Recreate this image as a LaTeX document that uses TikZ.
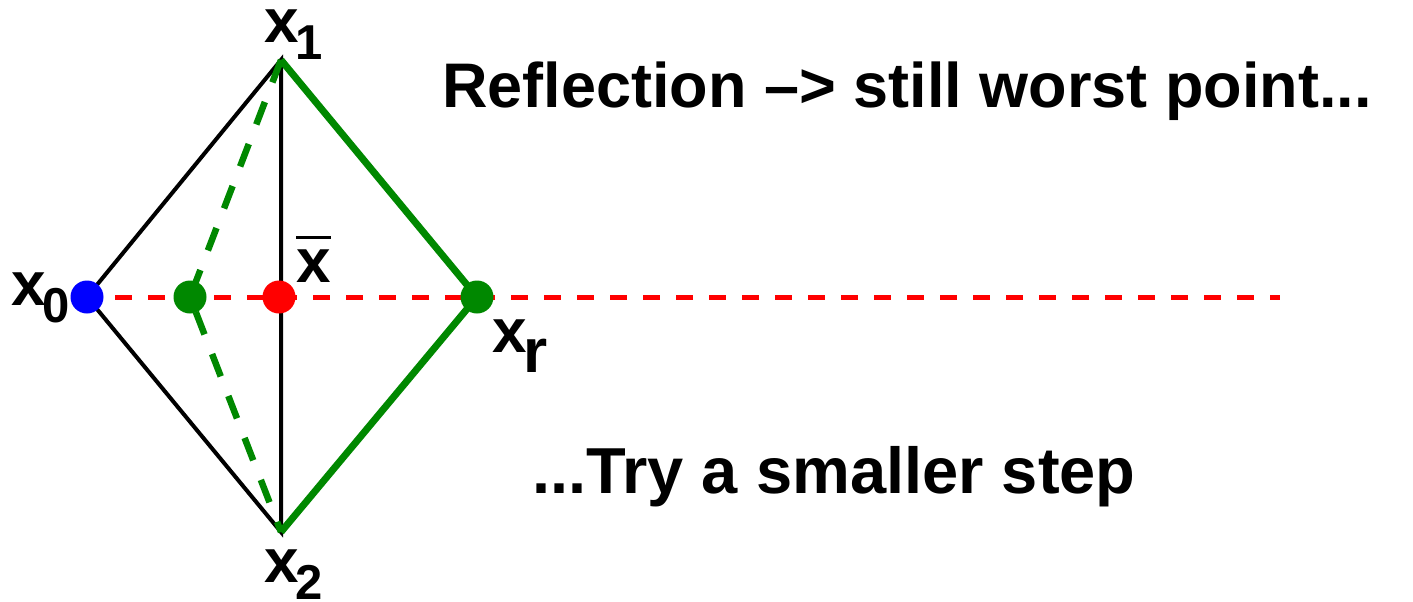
\documentclass[tikz,border=0pt]{standalone}
\usepackage{fontspec}
\setmainfont{Liberation Sans}
\definecolor{dotblue}{HTML}{0000FF}
\definecolor{dotred}{HTML}{FF0000}
\definecolor{simgreen}{HTML}{008800}
\newcommand{\lblfont}{\fontsize{62}{70}\selectfont\bfseries}
\newcommand{\subfont}{\fontsize{49}{55}\selectfont\bfseries}
\newcommand{\headfont}{\fontsize{63}{70}\selectfont\bfseries}
\newcommand{\xsub}[2][17pt]{x\kern-3pt\raisebox{-#1}{#2}}
\tikzset{punkt/.style={circle,fill=#1,inner sep=0,minimum size=33pt},
  kante/.style={black,line width=4pt},
  achse/.style={dotred,line width=5pt,dash pattern=on 17pt off 16pt,dash phase=21pt},
  reflex/.style={simgreen,line width=7pt},
  kontrakt/.style={simgreen,line width=6.5pt,dash pattern=on 24pt off 21pt},
  beschr/.style={anchor=base west,inner sep=0,font=\lblfont}}

\begin{document}
\begin{tikzpicture}[x=1pt,y=-1pt]
\useasboundingbox (0,0) rectangle (1413,602);
\coordinate (c0) at (87,297);\coordinate (vx1) at (281,60);\coordinate (vx2) at (281,532);
\coordinate (cm) at (279,297);\coordinate (ck) at (190,297);\coordinate (cr) at (477,297);
\coordinate (achsenende) at (1280,297);
% simplex and trial points
\draw[kante] (c0) -- (vx1) -- (vx2) -- cycle;
\draw[achse] ([xshift=16pt]c0) -- (achsenende);
\draw[kontrakt] (vx1) -- (ck) -- (vx2);
\draw[reflex] (vx1) -- (cr) -- (vx2);
\node[punkt=dotblue] (p0) at (c0) {};
\node[punkt=simgreen] (pk) at (ck) {};
\node[punkt=dotred] (pm) at (cm) {};
\node[punkt=simgreen] (pr) at (cr) {};
% labels
\node[beschr] (l1) at (264,43) {\xsub{\subfont 1}};
\node[beschr] (l0) at (11,305) {\xsub{\subfont 0}};
\node[beschr] (l2) at (264,582) {\xsub{\subfont 2}};
\node[beschr] (lr) at (492,352) {\xsub[20pt]{r}};
\node[beschr] (lm) at (296,282) {\vbox{\hrule height 3pt\kern 10pt\hbox{x}}};
\node[beschr,font=\headfont] (oben) at (442,107) {Reflection \textendash> still worst point...};
\node[beschr,font=\fontsize{65}{72}\selectfont\bfseries] (unten) at (532,493) {...Try a smaller step};
\end{tikzpicture}
\end{document}
